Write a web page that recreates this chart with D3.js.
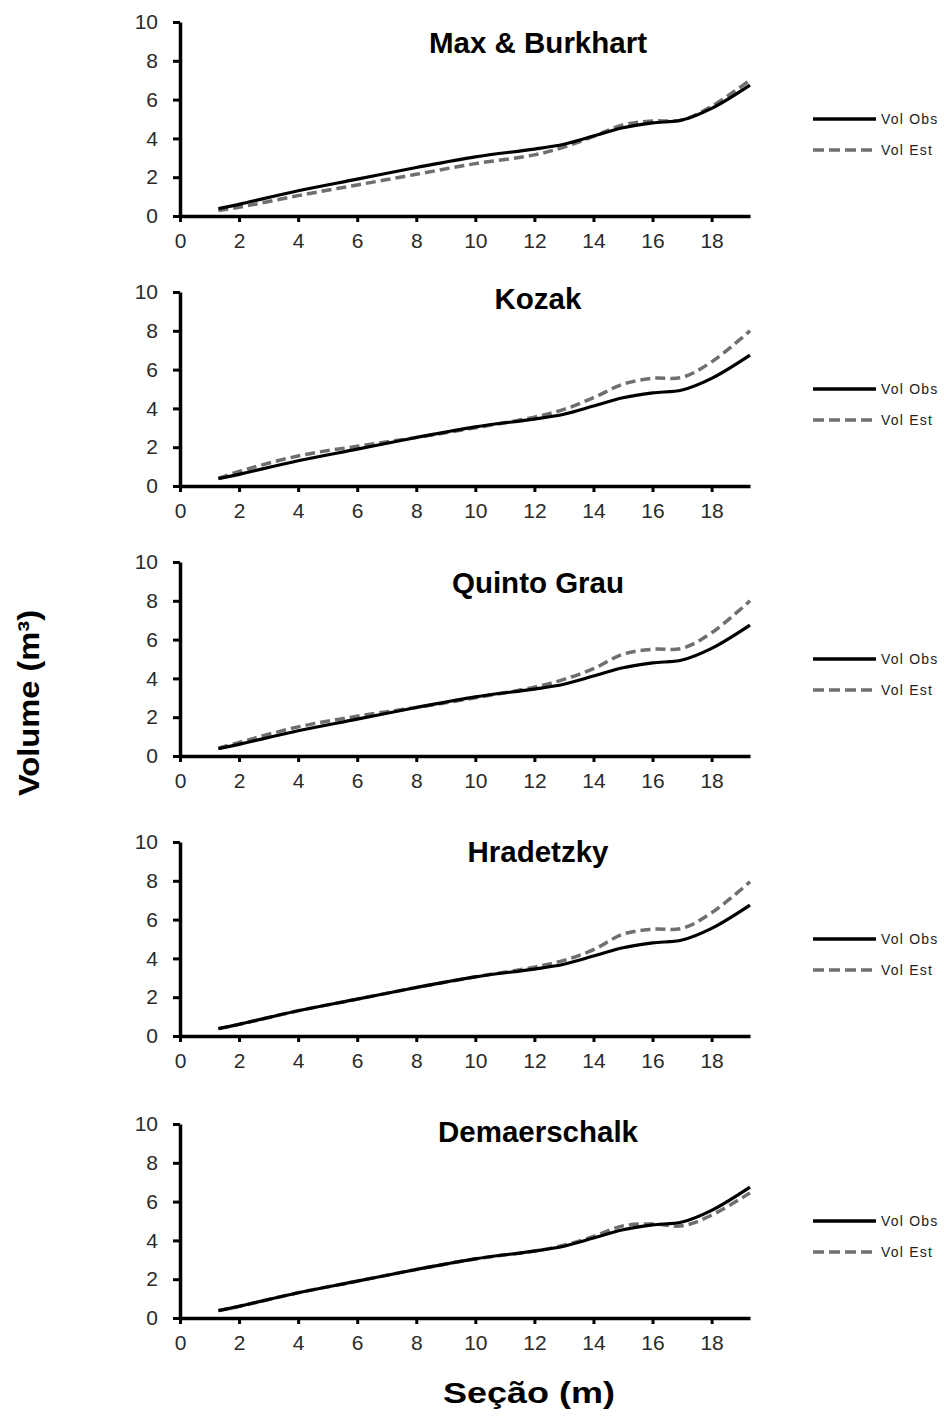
<!DOCTYPE html>
<html>
<head>
<meta charset="utf-8">
<script src="https://cdn.jsdelivr.net/npm/d3@7"></script>
<style>
  body { margin: 0; background: #fff; }
  svg { display: block; }
</style>
</head>
<body>
<svg id="chart" width="944" height="1416"></svg>
<script>
// ---- data ----
const sections = [1.3, 2, 4, 6, 8, 10, 12, 13, 14, 15, 16, 17, 18, 19.3];
const volObs   = [0.38, 0.6, 1.3, 1.9, 2.5, 3.05, 3.45, 3.7, 4.12, 4.55, 4.8, 4.95, 5.55, 6.75];
const estMaxBurkhart = [0.28, 0.45, 1.05, 1.6, 2.15, 2.7, 3.15, 3.55, 4.1, 4.7, 4.9, 4.95, 5.65, 7.0];
const estKozak       = [0.4, 0.75, 1.55, 2.05, 2.5, 3.0, 3.55, 3.95, 4.55, 5.25, 5.55, 5.6, 6.4, 8.0];
const estQuintoGrau  = [0.4, 0.7, 1.5, 2.05, 2.5, 3.0, 3.55, 3.95, 4.5, 5.25, 5.5, 5.55, 6.35, 8.0];
const estHradetzky   = [0.38, 0.6, 1.3, 1.9, 2.5, 3.05, 3.55, 3.9, 4.45, 5.25, 5.5, 5.55, 6.35, 7.95];
const estDemaerschalk= [0.38, 0.6, 1.3, 1.9, 2.5, 3.05, 3.45, 3.75, 4.2, 4.75, 4.85, 4.75, 5.3, 6.45];
const modelNames = ["Max & Burkhart", "Kozak", "Quinto Grau", "Hradetzky", "Demaerschalk"];
const modelEst = [estMaxBurkhart, estKozak, estQuintoGrau, estHradetzky, estDemaerschalk];
const xTicks = [0, 2, 4, 6, 8, 10, 12, 14, 16, 18];
const yTicks = [0, 2, 4, 6, 8, 10];
const legendLabels = ["Vol Obs", "Vol Est"];
const xTitle = "Seção (m)";
const yTitle = "Volume (m³)";

// ---- layout ----
const panelTops = [22, 292, 562, 842, 1124];
const titleBaselines = [53, 309, 593, 862, 1142];
const panelH = 194;
const x0 = 180, x1 = 750;
const FONT = "'Liberation Sans', Arial, sans-serif";

const svg = d3.select("#chart");
const x = d3.scaleLinear().domain([0, 19.3]).range([x0, x1]);

modelNames.forEach((name, i) => {
  const top = panelTops[i];
  const y = d3.scaleLinear().domain([0, 10]).range([top + panelH, top]);
  const g = svg.append("g");

  // axes
  const yAxis = d3.axisLeft(y).tickValues(yTicks).tickSize(7).tickPadding(15).tickSizeOuter(0);
  const gy = g.append("g").attr("transform", `translate(${x0},0)`).call(yAxis);
  const xAxis = d3.axisBottom(x).tickValues(xTicks).tickSize(6).tickPadding(11).tickSizeOuter(0);
  const gx = g.append("g").attr("transform", `translate(0,${top + panelH})`).call(xAxis);
  [gx, gy].forEach(a => {
    a.select(".domain").attr("stroke", "#000").attr("stroke-width", 3.5);
    a.selectAll(".tick line").attr("stroke", "#000").attr("stroke-width", 3);
    a.selectAll(".tick text").attr("font-family", FONT).attr("font-size", 21).attr("fill", "#2a2a2a");
  });

  const line = d3.line().x((d, j) => x(sections[j])).y(d => y(d)).curve(d3.curveCatmullRom.alpha(0.5));

  g.append("path").datum(modelEst[i]).attr("d", line)
    .attr("fill", "none").attr("stroke", "#6f6f6f").attr("stroke-width", 3.5)
    .attr("stroke-dasharray", "10,5");
  g.append("path").datum(volObs).attr("d", line)
    .attr("fill", "none").attr("stroke", "#000").attr("stroke-width", 3.2);

  // title
  g.append("text").attr("x", 538).attr("y", titleBaselines[i]).attr("text-anchor", "middle")
    .attr("font-family", FONT).attr("font-weight", "bold").attr("font-size", 29.5).text(name);

  // legend
  const ly = top + panelH / 2;
  [0, 1].forEach(k => {
    const yy = ly + k * 31;
    g.append("line").attr("x1", 813).attr("x2", 876).attr("y1", yy).attr("y2", yy)
      .attr("stroke", k === 0 ? "#000" : "#6f6f6f").attr("stroke-width", 3.5)
      .attr("stroke-dasharray", k === 0 ? null : "11,5");
    g.append("text").attr("x", 881).attr("y", yy).attr("dy", "0.35em")
      .attr("font-family", FONT).attr("font-size", 14).attr("letter-spacing", 1.2)
      .attr("fill", "#222").text(legendLabels[k]);
  });
});

// axis titles
svg.append("text").attr("x", 529).attr("y", 1403).attr("text-anchor", "middle")
  .attr("font-family", FONT).attr("font-weight", "bold").attr("font-size", 30)
  .attr("textLength", 172).attr("lengthAdjust", "spacingAndGlyphs").text(xTitle);
svg.append("text").attr("transform", "translate(39,703) rotate(-90)").attr("text-anchor", "middle")
  .attr("font-family", FONT).attr("font-weight", "bold").attr("font-size", 29)
  .attr("textLength", 186).attr("lengthAdjust", "spacingAndGlyphs").text(yTitle);
</script>
</body>
</html>
